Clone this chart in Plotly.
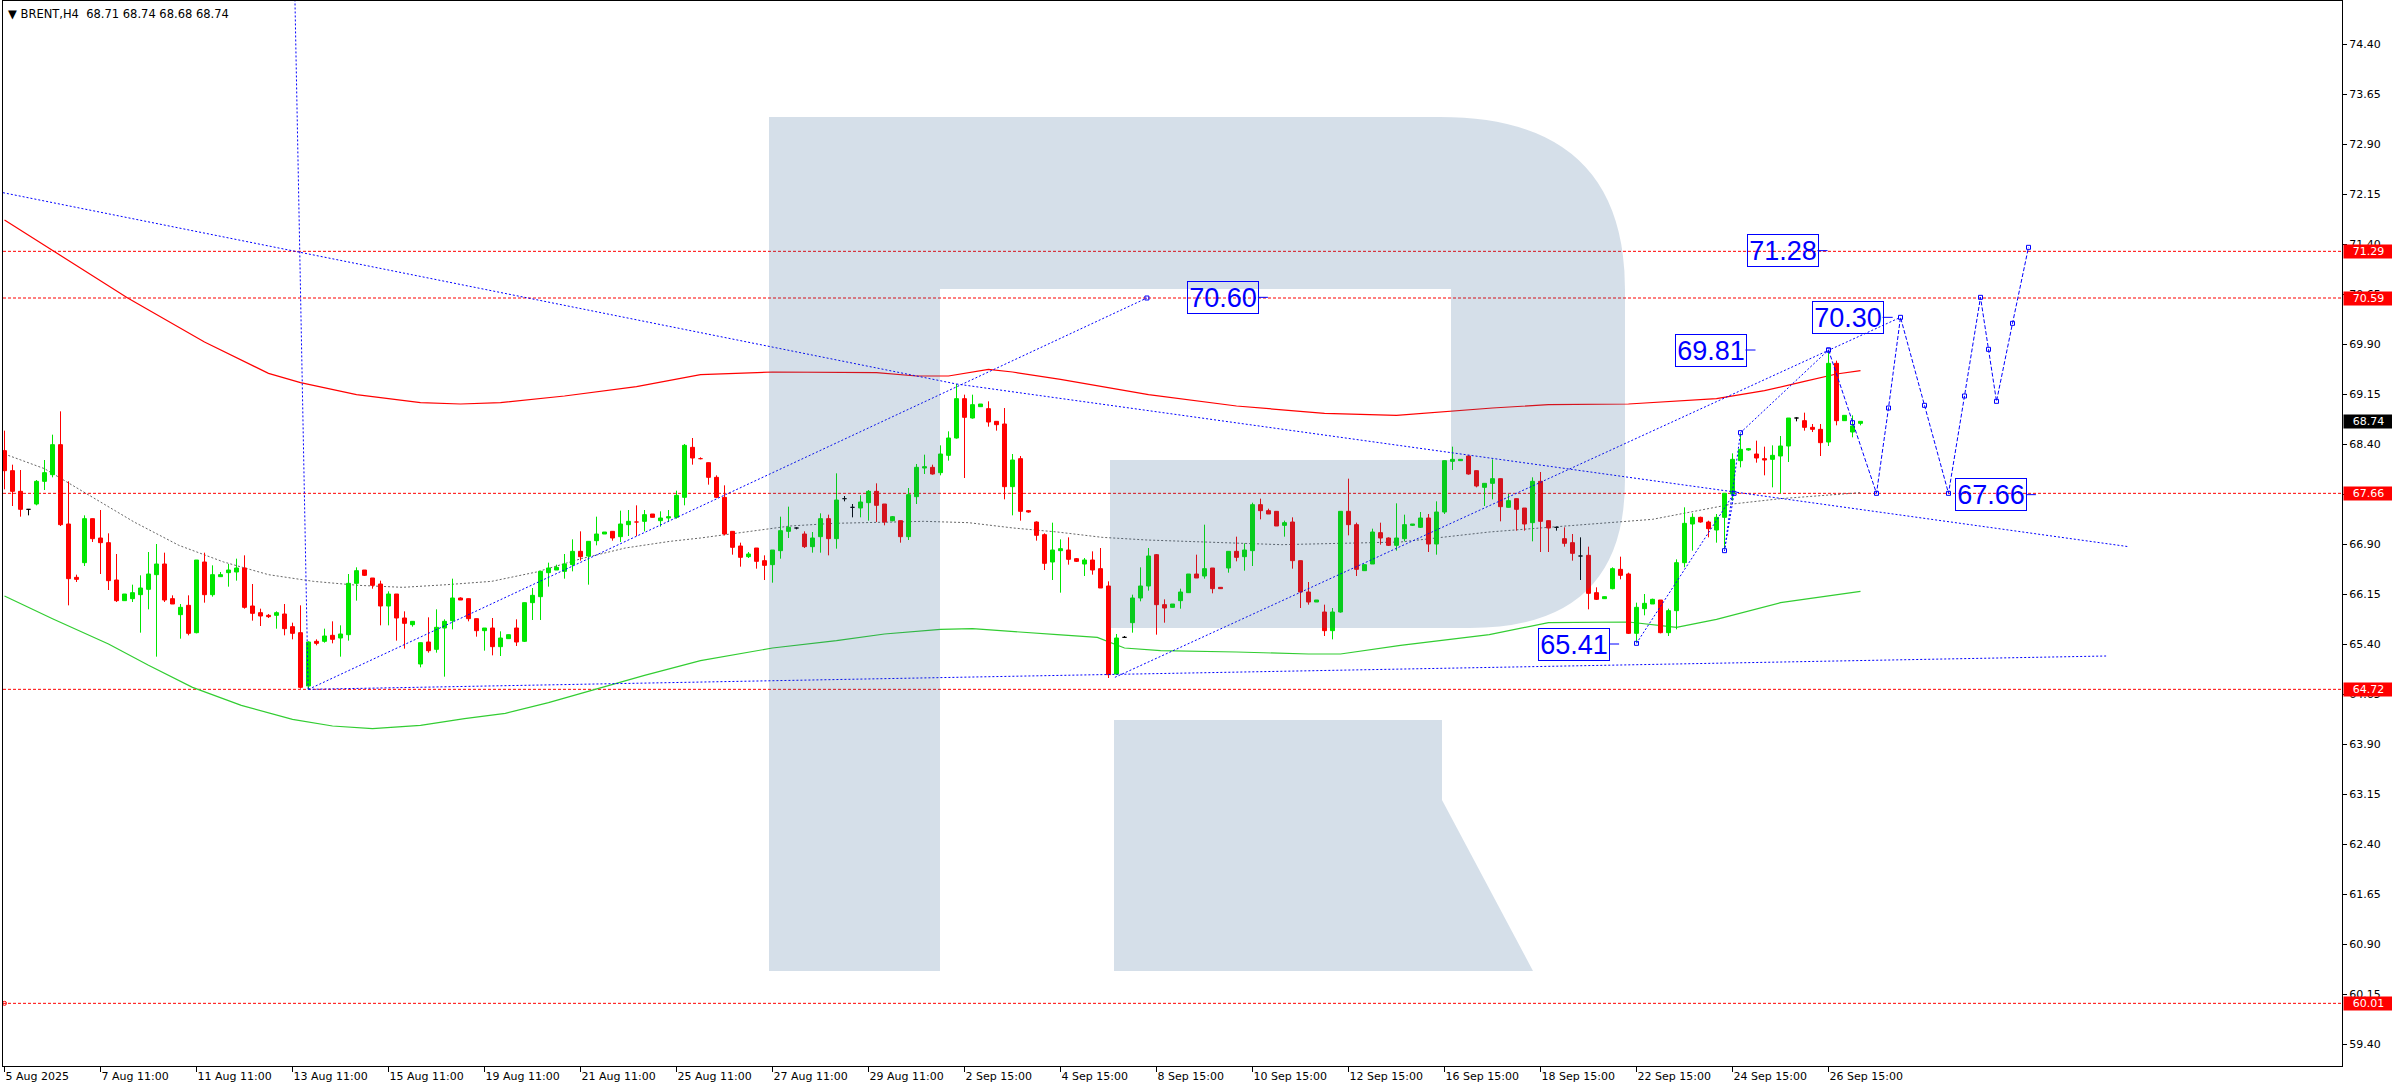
import plotly.graph_objects as go

# ---------------- data ----------------
x_labels = ["5 Aug 2025", "7 Aug 11:00", "11 Aug 11:00", "13 Aug 11:00", "15 Aug 11:00",
            "19 Aug 11:00", "21 Aug 11:00", "25 Aug 11:00", "27 Aug 11:00", "29 Aug 11:00",
            "2 Sep 15:00", "4 Sep 15:00", "8 Sep 15:00", "10 Sep 15:00", "12 Sep 15:00",
            "16 Sep 15:00", "18 Sep 15:00", "22 Sep 15:00", "24 Sep 15:00", "26 Sep 15:00"]
label_bars = [0, 12, 24, 36, 48, 60, 72, 84, 96, 108, 120, 132, 144, 156, 168, 180, 192, 204, 216, 228]

opens = [
    68.30, 68.00, 67.69, 67.42, 67.50, 67.84, 67.94, 68.39, 67.20, 66.40,
    66.62, 67.28, 66.99, 66.92, 66.36, 66.05, 66.08, 66.14, 66.22, 66.44,
    66.60, 66.08, 65.84, 65.98, 65.57, 66.63, 66.14, 66.41, 66.47, 66.48,
    66.54, 65.97, 65.87, 65.83, 65.83, 65.85, 65.66, 65.57, 64.77, 65.44,
    65.44, 65.53, 65.49, 65.54, 66.31, 66.51, 66.39, 66.30, 65.97, 66.15,
    65.79, 65.69, 65.10, 65.43, 65.32, 65.64, 65.75, 66.09, 66.08, 65.78,
    65.60, 65.64, 65.36, 65.48, 65.64, 65.44, 66.02, 66.11, 66.47, 66.51,
    66.49, 66.59, 66.79, 66.72, 66.95, 67.05, 67.09, 67.01, 67.19, 67.24,
    67.24, 67.35, 67.25, 67.29, 67.30, 67.60, 68.35, 68.19, 68.12, 67.90,
    67.60, 67.09, 66.87, 66.71, 66.84, 66.65, 66.59, 66.80, 67.09, 67.14,
    67.05, 66.86, 67.01, 67.28, 66.98, 67.58, 67.45, 67.44, 67.52, 67.69,
    67.50, 67.25, 67.25, 67.01, 67.61, 68.04, 68.05, 67.97, 68.23, 68.49,
    69.08, 68.79, 68.96, 68.93, 68.74, 68.70, 67.76, 68.18, 67.40, 67.23,
    67.04, 66.63, 66.80, 66.81, 66.68, 66.60, 66.66, 66.53, 66.27, 64.95,
    65.50, 65.72, 66.09, 66.27, 66.74, 65.99, 65.95, 66.05, 66.17, 66.45,
    66.42, 66.54, 66.25, 66.54, 66.79, 66.71, 66.80, 67.49, 67.40, 67.39,
    67.18, 67.23, 66.65, 66.18, 66.03, 65.88, 65.60, 65.88, 67.39, 67.19,
    66.50, 66.60, 67.07, 66.99, 66.88, 66.98, 67.18, 67.15, 67.29, 66.90,
    67.38, 68.14, 68.15, 68.22, 68.00, 67.75, 67.81, 67.88, 67.45, 67.58,
    67.44, 67.22, 67.84, 67.25, 67.15, 66.98, 66.92, 66.72, 66.73, 66.17,
    66.08, 66.23, 66.52, 66.45, 65.56, 65.93, 66.00, 66.06, 65.57, 65.90,
    66.62, 67.20, 67.30, 67.23, 67.11, 67.30, 67.65, 68.15, 68.31, 68.25,
    68.18, 68.17, 68.22, 68.37, 68.79, 68.75, 68.65, 68.62, 68.43, 69.61,
    68.75, 68.58, 68.71]
highs = [
    68.60, 68.09, 68.01, 67.42, 67.86, 68.16, 68.54, 68.89, 67.84, 66.44,
    67.33, 67.28, 67.41, 67.06, 66.75, 66.15, 66.29, 66.43, 66.78, 66.90,
    66.77, 66.13, 66.00, 66.13, 66.66, 66.77, 66.58, 66.48, 66.60, 66.68,
    66.73, 66.30, 65.93, 65.85, 65.89, 66.00, 65.72, 65.98, 65.44, 65.47,
    65.63, 65.74, 65.68, 66.45, 66.55, 66.51, 66.39, 66.35, 66.19, 66.15,
    65.89, 65.74, 65.42, 65.80, 65.92, 65.77, 66.38, 66.10, 66.08, 65.78,
    65.64, 65.79, 65.59, 65.54, 65.77, 66.02, 66.24, 66.49, 66.62, 66.59,
    66.75, 66.97, 67.09, 66.94, 67.31, 67.08, 67.09, 67.40, 67.41, 67.48,
    67.41, 67.35, 67.39, 67.41, 67.70, 68.40, 68.49, 68.20, 68.12, 67.93,
    67.78, 67.09, 66.92, 66.78, 66.84, 66.73, 66.81, 67.31, 67.46, 67.15,
    67.09, 67.08, 67.36, 67.34, 67.96, 67.62, 67.50, 67.63, 67.71, 67.81,
    67.50, 67.32, 67.25, 67.74, 68.10, 68.24, 68.09, 68.38, 68.59, 69.30,
    69.14, 69.14, 69.00, 69.04, 68.74, 68.94, 68.25, 68.22, 67.41, 67.24,
    67.06, 67.22, 66.97, 67.00, 66.69, 66.69, 66.79, 66.84, 66.34, 65.55,
    65.52, 66.14, 66.55, 66.84, 66.75, 66.07, 66.00, 66.23, 66.45, 66.74,
    67.19, 66.54, 66.25, 66.79, 67.01, 66.91, 67.52, 67.58, 67.43, 67.39,
    67.25, 67.30, 66.65, 66.33, 66.06, 65.99, 65.94, 67.39, 67.88, 67.22,
    66.59, 67.13, 67.22, 67.00, 67.51, 67.34, 67.20, 67.38, 67.35, 67.54,
    68.15, 68.36, 68.17, 68.23, 68.00, 67.81, 68.17, 67.88, 67.65, 67.58,
    67.44, 67.90, 67.98, 67.25, 67.16, 67.15, 67.05, 67.00, 66.86, 66.25,
    66.11, 66.55, 66.71, 66.47, 66.02, 66.15, 66.08, 66.06, 65.93, 66.67,
    67.45, 67.36, 67.31, 67.25, 67.35, 67.66, 68.26, 68.56, 68.34, 68.45,
    68.36, 68.38, 68.52, 68.79, 68.80, 68.87, 68.70, 68.70, 69.79, 69.65,
    68.83, 68.83, 68.74]
lows = [
    67.72, 67.47, 67.31, 67.33, 67.48, 67.71, 67.90, 67.17, 65.98, 66.33,
    66.57, 66.93, 66.45, 66.21, 66.03, 66.05, 66.03, 65.57, 65.92, 65.21,
    66.03, 66.00, 65.48, 65.53, 65.56, 66.02, 66.11, 66.41, 66.26, 66.35,
    65.93, 65.75, 65.67, 65.79, 65.63, 65.53, 65.47, 64.73, 64.72, 65.38,
    65.42, 65.41, 65.21, 65.45, 66.05, 66.42, 66.23, 65.68, 65.68, 65.45,
    65.33, 65.66, 65.05, 65.27, 65.27, 64.91, 65.62, 66.06, 65.74, 65.51,
    65.30, 65.23, 65.22, 65.48, 65.37, 65.43, 65.76, 65.76, 66.26, 66.51,
    66.38, 66.49, 66.65, 66.29, 66.88, 67.05, 66.95, 66.93, 67.02, 67.02,
    67.09, 67.30, 67.16, 67.23, 67.28, 67.48, 68.09, 68.17, 67.79, 67.59,
    67.03, 66.74, 66.56, 66.69, 66.53, 66.36, 66.32, 66.68, 66.99, 67.12,
    66.84, 66.77, 66.77, 66.73, 66.83, 67.54, 67.30, 67.30, 67.25, 67.23,
    67.18, 67.24, 66.92, 66.96, 67.50, 67.95, 67.94, 67.93, 68.15, 68.48,
    67.89, 68.78, 68.96, 68.66, 68.60, 67.57, 67.33, 67.25, 67.37, 66.95,
    66.51, 66.36, 66.17, 66.59, 66.63, 66.42, 66.44, 66.24, 64.89, 64.94,
    65.49, 65.57, 66.04, 66.20, 65.54, 65.72, 65.95, 65.93, 66.17, 66.39,
    66.38, 66.16, 66.23, 66.47, 66.64, 66.50, 66.57, 67.27, 67.35, 67.17,
    67.01, 66.53, 65.94, 65.99, 66.03, 65.52, 65.47, 65.87, 67.03, 66.42,
    66.50, 66.60, 66.89, 66.87, 66.80, 66.94, 67.17, 67.14, 66.78, 66.74,
    67.35, 68.01, 68.15, 67.94, 67.75, 67.47, 67.57, 67.24, 67.45, 67.10,
    67.10, 66.94, 66.78, 66.78, 67.10, 66.86, 66.65, 66.36, 65.92, 66.06,
    66.08, 66.22, 66.37, 65.55, 65.42, 65.83, 66.00, 65.56, 65.52, 65.62,
    66.55, 66.80, 67.22, 67.00, 66.92, 66.83, 67.55, 68.05, 68.30, 68.12,
    67.93, 67.75, 67.66, 68.13, 68.74, 68.60, 68.58, 68.22, 68.37, 68.68,
    68.75, 68.50, 68.68]
closes = [
    68.00, 67.69, 67.42, 67.42, 67.84, 67.97, 68.39, 67.19, 66.38, 66.37,
    67.28, 66.98, 66.92, 66.35, 66.05, 66.15, 66.17, 66.24, 66.45, 66.60,
    66.06, 66.00, 65.95, 65.56, 66.66, 66.14, 66.44, 66.44, 66.51, 66.54,
    65.95, 65.86, 65.82, 65.81, 65.87, 65.63, 65.56, 64.75, 65.43, 65.41,
    65.52, 65.47, 65.55, 66.31, 66.50, 66.43, 66.28, 65.97, 66.15, 65.79,
    65.71, 65.74, 65.42, 65.30, 65.65, 65.74, 66.09, 66.06, 65.78, 65.60,
    65.64, 65.36, 65.49, 65.54, 65.43, 66.02, 66.13, 66.49, 66.54, 66.55,
    66.60, 66.79, 66.71, 66.94, 67.05, 67.08, 66.99, 67.20, 67.24, 67.23,
    67.34, 67.30, 67.29, 67.31, 67.63, 68.38, 68.19, 68.18, 67.90, 67.60,
    67.05, 66.85, 66.70, 66.75, 66.64, 66.58, 66.81, 67.10, 67.15, 67.14,
    66.86, 66.99, 67.28, 66.98, 67.56, 67.58, 67.45, 67.53, 67.69, 67.48,
    67.23, 67.31, 67.01, 67.64, 68.05, 68.06, 67.95, 68.25, 68.49, 69.08,
    68.80, 68.99, 69.00, 68.73, 68.69, 67.76, 68.16, 67.39, 67.38, 67.03,
    66.61, 66.81, 66.83, 66.67, 66.64, 66.66, 66.51, 66.24, 64.94, 65.49,
    65.50, 66.09, 66.27, 66.72, 65.99, 65.94, 66.00, 66.18, 66.45, 66.39,
    66.53, 66.23, 66.23, 66.79, 66.70, 66.81, 67.49, 67.40, 67.35, 67.17,
    67.22, 66.65, 66.18, 66.03, 66.06, 65.60, 65.88, 67.39, 67.19, 66.52,
    66.59, 67.08, 66.99, 66.88, 66.99, 67.19, 67.20, 67.29, 66.90, 67.38,
    68.15, 68.17, 68.17, 67.95, 67.77, 67.81, 67.88, 67.46, 67.55, 67.42,
    67.20, 67.84, 67.24, 67.14, 67.15, 66.91, 66.76, 66.72, 66.16, 66.07,
    66.11, 66.53, 66.43, 65.56, 65.95, 66.01, 66.07, 65.57, 65.90, 66.62,
    67.21, 67.30, 67.23, 67.13, 67.30, 67.66, 68.17, 68.32, 68.33, 68.19,
    68.16, 68.23, 68.37, 68.79, 68.79, 68.65, 68.62, 68.42, 69.61, 68.75,
    68.83, 68.67, 68.74]

price_ticks = [74.40, 73.65, 72.90, 72.15, 71.40, 70.65, 69.90, 69.15, 68.40, 67.65, 66.90,
               66.15, 65.40, 64.65, 63.90, 63.15, 62.40, 61.65, 60.90, 60.15, 59.40]
levels = [71.29, 70.59, 67.66, 64.72, 60.01]

# moving averages (sampled)
ma_red_x = [0, 6, 15.4, 25, 33, 37, 44, 52, 57, 62, 70, 79, 87, 96, 109, 114, 118, 123, 126,
            132, 143, 154, 165, 174, 186, 193, 203, 214, 220, 225, 229, 232]
ma_red_y = [71.76, 71.30, 70.59, 69.93, 69.46, 69.32, 69.14, 69.02, 69.00, 69.02, 69.12, 69.26,
            69.44, 69.48, 69.47, 69.42, 69.42, 69.52, 69.48, 69.37, 69.14, 68.97, 68.86, 68.83,
            68.94, 68.99, 69.00, 69.08, 69.20, 69.34, 69.45, 69.50]
ma_green_x = [0, 6, 13, 18, 23.5, 29.6, 36, 41, 46, 52, 57.5, 62.6, 68, 74, 80, 87, 96, 104,
              110, 117, 121, 131.6, 136.6, 140, 144.5, 154, 163, 167, 174.5, 185.6, 193, 203,
              209, 214, 222, 232]
ma_green_y = [66.12, 65.78, 65.40, 65.08, 64.75, 64.48, 64.27, 64.17, 64.13, 64.18, 64.28,
              64.36, 64.52, 64.72, 64.93, 65.15, 65.34, 65.45, 65.55, 65.62, 65.63, 65.54,
              65.50, 65.34, 65.30, 65.28, 65.25, 65.25, 65.38, 65.54, 65.72, 65.73, 65.65,
              65.77, 66.02, 66.19]
ma_grey_x = [0, 5, 10.6, 16.2, 21.8, 27.4, 33, 38.6, 44.2, 49.8, 55.3, 60.9, 66.5, 72.1, 77.6,
             83.2, 87, 92.6, 98.2, 103.7, 114.9, 120.5, 126.1, 131.6, 137.2, 142.8, 148.4,
             159.6, 174.5, 185.6, 193, 206, 216, 222, 232]
ma_grey_y = [68.25, 68.03, 67.63, 67.23, 66.88, 66.63, 66.44, 66.34, 66.28, 66.25, 66.29,
             66.34, 66.48, 66.68, 66.84, 66.94, 66.99, 67.08, 67.17, 67.21, 67.24, 67.22,
             67.14, 67.08, 67.00, 66.96, 66.94, 66.89, 66.93, 67.08, 67.15, 67.27, 67.50,
             67.58, 67.67]

# trend lines (bar index, price)
trend_lines = [
    ([-0.19, 119.0], [72.17, 69.30]),
    ([119.0, 265.5], [69.30, 66.86]),
    ([37.95, 36.3], [64.72, 75.10]),
    ([38.0, 142.8], [64.72, 70.59]),
    ([38.0, 262.7], [64.72, 65.22]),
    ([138.8, 237.0], [64.90, 70.30]),
]
prior_path_x = [204, 216.2, 215, 217, 228]
prior_path_y = [65.41, 67.66, 66.80, 68.57, 69.81]
forecast_x = [228, 231, 234, 235.5, 237, 240, 243, 245, 247, 248, 249, 251, 253]
forecast_y = [69.81, 68.72, 67.66, 68.94, 70.30, 68.98, 67.66, 69.12, 70.60, 69.82, 69.04, 70.21, 71.35]
endpoint_marks_x = [142.8]
endpoint_marks_y = [70.59]
left_mark_x = [0.0]
left_mark_y = [60.01]

label_text = ["70.60", "71.28", "70.30", "69.81", "65.41", "67.66"]
label_bar = [152.3, 222.25, 230.4, 213.25, 196.2, 248.3]
label_price = [70.60, 71.30, 70.30, 69.81, 65.40, 67.64]

# ---------------- geometry ----------------
W, H = 2392, 1090
PL, PR, PT, PB = 3, 2342, 1, 1066
BAR_PX = 8.0
X0 = (PL - 4.5) / BAR_PX
X1 = (PR - 4.5) / BAR_PX
PXU = 50 / 0.75
Y_TOP = 74.40 + (44 - PT) / PXU
Y_BOT = 74.40 - (PB - 44) / PXU

GREEN = "#00e600"
RED = "#ff0000"
BLUE = "#0000ff"

fig = go.Figure()

# red horizontal levels
for lv in levels:
    fig.add_trace(go.Scatter(x=[X0, X1], y=[lv, lv], mode="lines",
                             line=dict(color=RED, width=1, dash="3px,2px"), hoverinfo="skip"))
fig.add_trace(go.Scatter(x=left_mark_x, y=left_mark_y, mode="markers",
                         marker=dict(symbol="circle-open", size=4, color=RED, line=dict(width=1)),
                         hoverinfo="skip"))

# MAs
fig.add_trace(go.Scatter(x=ma_grey_x, y=ma_grey_y, mode="lines",
                         line=dict(color="#666666", width=1, dash="2px,2px"), hoverinfo="skip"))
fig.add_trace(go.Scatter(x=ma_green_x, y=ma_green_y, mode="lines",
                         line=dict(color="#32cd32", width=1.2), hoverinfo="skip"))
fig.add_trace(go.Scatter(x=ma_red_x, y=ma_red_y, mode="lines",
                         line=dict(color=RED, width=1.2), hoverinfo="skip"))

# candles
groups = {"up": [], "down": [], "doji": []}
for i, (o, c) in enumerate(zip(opens, closes)):
    if c > o:
        groups["up"].append(i)
    elif c < o:
        groups["down"].append(i)
    else:
        groups["doji"].append(i)
colors = {"up": GREEN, "down": RED, "doji": "#000000"}
HW = 0.25
for g, idxs in groups.items():
    wx, wy, bx, by = [], [], [], []
    for i in idxs:
        o, c = opens[i], closes[i]
        hi = max(highs[i], o, c)
        lo = min(lows[i], o, c)
        wx += [i, i, None]
        wy += [lo, hi, None]
        b0, b1 = min(o, c), max(o, c)
        bx += [i - HW, i + HW, i + HW, i - HW, i - HW, None]
        by += [b0, b0, b1, b1, b0, None]
    fig.add_trace(go.Scatter(x=wx, y=wy, mode="lines", line=dict(color=colors[g], width=1),
                             hoverinfo="skip"))
    fig.add_trace(go.Scatter(x=bx, y=by, mode="lines", fill="toself", fillcolor=colors[g],
                             line=dict(color=colors[g], width=1), hoverinfo="skip"))

# trend lines
for tx, ty in trend_lines:
    fig.add_trace(go.Scatter(x=tx, y=ty, mode="lines",
                             line=dict(color=BLUE, width=1, dash="2px,2px"), hoverinfo="skip"))
fig.add_trace(go.Scatter(x=endpoint_marks_x, y=endpoint_marks_y, mode="markers",
                         marker=dict(symbol="square-open", size=4, color=BLUE, line=dict(width=1)),
                         hoverinfo="skip"))
fig.add_trace(go.Scatter(x=prior_path_x, y=prior_path_y, mode="lines+markers",
                         line=dict(color=BLUE, width=1, dash="2px,2px"),
                         marker=dict(symbol="square-open", size=4, color=BLUE, line=dict(width=1)),
                         hoverinfo="skip"))
fig.add_trace(go.Scatter(x=forecast_x, y=forecast_y, mode="lines+markers",
                         line=dict(color=BLUE, width=1, dash="4px,2px"),
                         marker=dict(symbol="square-open", size=4, color=BLUE, line=dict(width=1)),
                         hoverinfo="skip"))

# label connectors
conn_x, conn_y = [], []
for b, p in zip(label_bar, label_price):
    xr = b + 35 / BAR_PX
    conn_x += [xr, xr + 10 / BAR_PX, None]
    conn_y += [p, p, None]
fig.add_trace(go.Scatter(x=conn_x, y=conn_y, mode="lines", line=dict(color=BLUE, width=1),
                         hoverinfo="skip"))

annotations = []
for t, b, p in zip(label_text, label_bar, label_price):
    annotations.append(dict(x=b, y=p, xref="x", yref="y", text=t, showarrow=False,
                            xanchor="center", yanchor="middle", width=70, height=31,
                            bordercolor=BLUE, borderwidth=1, borderpad=0,
                            font=dict(family="Liberation Sans, Arial", size=27, color=BLUE)))

# right price-axis boxes
for lv in levels:
    annotations.append(dict(x=1, y=lv, xref="paper", yref="y", text=f"{lv:.2f}", showarrow=False,
                            xanchor="left", yanchor="middle", xshift=1, width=49, height=13,
                            bgcolor=RED, borderpad=0,
                            font=dict(family="DejaVu Sans", size=11, color="white")))
annotations.append(dict(x=1, y=closes[-1], xref="paper", yref="y", text=f"{closes[-1]:.2f}",
                        showarrow=False, xanchor="left", yanchor="middle", xshift=1, width=49,
                        height=13, bgcolor="#000000", borderpad=0,
                        font=dict(family="DejaVu Sans", size=11, color="white")))

# header
header = "\u25bc BRENT,H4\u00a0\u00a0{:.2f} {:.2f} {:.2f} {:.2f}".format(opens[-1], highs[-1], lows[-1], closes[-1])
annotations.append(dict(x=0, y=1, xref="paper", yref="paper", text=header, showarrow=False,
                        xanchor="left", yanchor="top", xshift=3, yshift=-4,
                        font=dict(family="DejaVu Sans", size=11.5, color="#000000")))


# watermark (pixel geometry -> paper)
def pp(x, y):
    return "{:.5f},{:.5f}".format((x - PL) / (PR - PL), 1 - (y - PT) / (PB - PT))


wm_paths = [
    "M{} L{} L{} L{} Z".format(pp(769, 117), pp(940, 117), pp(940, 971), pp(769, 971)),
    "M{} L{} Q{} {} L{} Q{} {} L{} L{} L{} L{} L{} Z".format(
        pp(940, 117), pp(1440, 117), pp(1625, 117), pp(1625, 290), pp(1625, 480),
        pp(1625, 628), pp(1470, 628), pp(1110, 628), pp(1110, 460), pp(1451, 460),
        pp(1451, 289), pp(940, 289)),
    "M{} L{} L{} L{} L{} Z".format(pp(1114, 720), pp(1442, 720), pp(1442, 800), pp(1533, 971),
                                   pp(1114, 971)),
]
shapes = [dict(type="path", path=p, xref="paper", yref="paper", layer="above",
               fillcolor="rgba(45,95,145,0.2)", line=dict(width=0)) for p in wm_paths]

fig.update_layout(
    width=W, height=H,
    margin=dict(l=PL, r=W - PR, t=PT, b=H - PB, pad=0),
    paper_bgcolor="white", plot_bgcolor="white",
    showlegend=False, hovermode=False,
    annotations=annotations, shapes=shapes,
    xaxis=dict(range=[X0, X1], tickmode="array", tickvals=label_bars, ticktext=x_labels,
               ticks="outside", ticklen=5, tickcolor="black", tickwidth=1,
               ticklabelposition="outside right",
               showgrid=False, zeroline=False, showline=True, linecolor="black", linewidth=1,
               mirror=True, tickfont=dict(family="DejaVu Sans", size=11, color="black"),
               fixedrange=True),
    yaxis=dict(range=[Y_BOT, Y_TOP], side="right", tickmode="array", tickvals=price_ticks,
               ticktext=[f"{v:.2f}" for v in price_ticks], ticks="outside", ticklen=4,
               tickcolor="black", showgrid=False, zeroline=False, showline=True,
               linecolor="black", linewidth=1, mirror=True,
               tickfont=dict(family="DejaVu Sans", size=11, color="black"), fixedrange=True),
)

fig.write_html("out.html", config={"displayModeBar": False, "staticPlot": True},
               post_script="document.body.style.margin='0';document.body.style.overflow='hidden';")
